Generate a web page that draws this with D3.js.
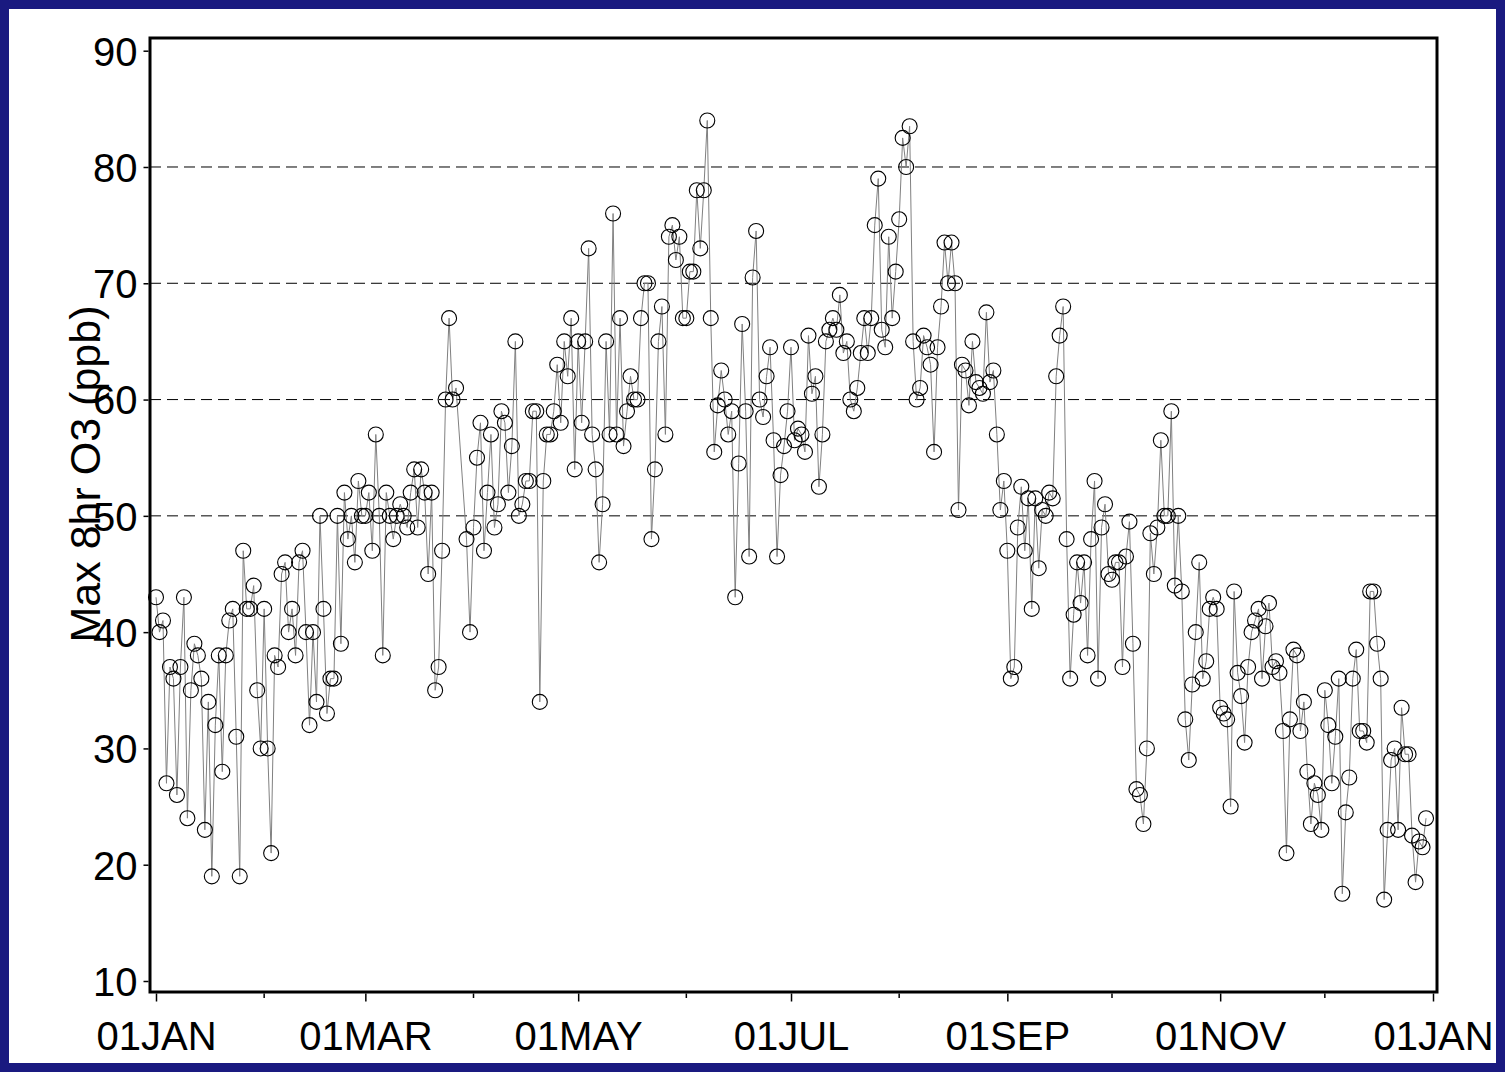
<!DOCTYPE html>
<html>
<head>
<meta charset="utf-8">
<script src="https://cdn.jsdelivr.net/npm/d3@7"></script>
<style>
  html, body { margin: 0; padding: 0; background: #1a1a80; }
  svg { display: block; }
  text { font-family: "Liberation Sans", Arial, sans-serif; fill: #000; }
</style>
</head>
<body>
<svg id="chart" width="1505" height="1072"></svg>
<script>
// ---- data ----
const startDate = new Date(2000, 0, 1);   // leap year, daily values
const endDate = new Date(2001, 0, 1);
const ozone = [
  43,40,41,27,37,36,26,37,43,24, 35,39,38,36,23,34,19,32,38,28,
  38,41,42,31,19,47,42,42,44,35, 30,42,30,21,38,37,45,46,40,42,
  38,46,47,40,32,40,34,50,42,33, 36,36,50,39,52,48,50,46,53,50,
  50,52,47,57,50,38,52,50,48,50, 51,50,49,52,54,49,54,52,45,52,
  35,37,47,60,67,60,61,null,null,48, 40,49,55,58,47,52,57,49,51,59,
  58,52,56,65,50,51,53,53,59,59, 34,53,57,57,59,63,58,65,62,67,
  54,65,58,65,73,57,54,46,51,65, 57,76,57,67,56,59,62,60,60,67,
  70,70,48,54,65,68,57,74,75,72, 74,67,67,71,71,78,73,78,84,67,
  55.5,59.5,62.5,60,57,59,43,54.5,66.5,59, 46.5,70.5,74.5,60,58.5,62,64.5,56.5,46.5,53.5,
  56,59,64.5,56.5,57.5,57,55.5,65.5,60.5,62, 52.5,57,65,66,67,66,69,64,65,60,
  59,61,64,67,64,67,75,79,66,64.5, 74,67,71,75.5,82.5,80,83.5,65,60,61,
  65.5,64.5,63,55.5,64.5,68,73.5,70,73.5,70, 50.5,63,62.5,59.5,65,61.5,61,60.5,67.5,61.5,
  62.5,57,50.5,53,47,36,37,49,52.5,47, 51.5,42,51.5,45.5,50.5,50,52,51.5,62,65.5,
  68,48,36,41.5,46,42.5,46,38,48,53, 36,49,51,45,44.5,46,46,37,46.5,49.5,
  39,26.5,26,23.5,30,48.5,45,49,56.5,50, 50,59,44,50,43.5,32.5,29,35.5,40,46,
  36,37.5,42,43,42,33.5,33,32.5,25,43.5, 36.5,34.5,30.5,37,40,41,42,36,40.5,42.5,
  37,37.5,36.5,31.5,21,32.5,38.5,38,31.5,34, 28,23.5,27,26,23,35,32,27,31,36,
  17.5,24.5,27.5,36,38.5,31.5,31.5,30.5,43.5,43.5, 39,36,17,23,29,30,23,33.5,29.5,29.5,
  22.5,18.5,22,21.5,24
];
const yTicks = [10, 20, 30, 40, 50, 60, 70, 80, 90];
const gridValues = [50, 60, 70, 80];
const xTickLabels = ["01JAN", "01MAR", "01MAY", "01JUL", "01SEP", "01NOV", "01JAN"];
const yTitle = "Max 8hr O3 (ppb)";

// ---- layout ----
const frame = { left: 150, right: 1437, top: 38, bottom: 992 };
const svg = d3.select("#chart");

svg.append("rect").attr("x", 0).attr("y", 0).attr("width", 1505).attr("height", 1072).attr("fill", "#1a1a80");
svg.append("rect").attr("x", 9).attr("y", 9).attr("width", 1487).attr("height", 1054).attr("fill", "#ffffff");

const x = d3.scaleTime().domain([startDate, endDate]).range([156, 1433]);
const y = d3.scaleLinear().domain([10, 90]).range([981, 50.7]);

const points = ozone.map((v, i) => ({ date: d3.timeDay.offset(startDate, i), value: v }))
                    .filter(d => d.value !== null);

// grid lines
svg.append("g").selectAll("line").data(gridValues).join("line")
  .attr("x1", frame.left).attr("x2", frame.right)
  .attr("y1", d => y(d)).attr("y2", d => y(d))
  .attr("stroke", "#000").attr("stroke-width", 1).attr("stroke-dasharray", "11,6");

// line
svg.append("path").datum(points)
  .attr("fill", "none").attr("stroke", "#808080").attr("stroke-width", 1)
  .attr("d", d3.line().x(d => x(d.date)).y(d => y(d.value)));

// markers
svg.append("g").selectAll("circle").data(points).join("circle")
  .attr("cx", d => x(d.date)).attr("cy", d => y(d.value)).attr("r", 7.5)
  .attr("fill", "none").attr("stroke", "#000").attr("stroke-width", 1.1);

// frame
svg.append("rect").attr("x", frame.left).attr("y", frame.top)
  .attr("width", frame.right - frame.left).attr("height", frame.bottom - frame.top)
  .attr("fill", "none").attr("stroke", "#000").attr("stroke-width", 3);

// y axis
const yAxis = d3.axisLeft(y).tickValues(yTicks).tickSize(5).tickPadding(6).tickFormat(d3.format("d"));
const gy = svg.append("g").attr("transform", `translate(${frame.left - 1.5},0)`).call(yAxis);
gy.select(".domain").remove();
gy.selectAll("text").attr("font-size", 40).attr("font-family", "Liberation Sans, Arial, sans-serif").attr("dy", "0.36em");
gy.selectAll("line").attr("stroke", "#000").attr("stroke-width", 1.5);

// x axis (major every 2 months, minor between)
const majorDates = d3.timeMonth.every(2).range(startDate, d3.timeDay.offset(endDate, 1));
const minorDates = d3.timeMonth.range(startDate, d3.timeDay.offset(endDate, 1)).filter((d, i) => i % 2 === 1);
const xAxis = d3.axisBottom(x).tickValues(majorDates).tickSize(8).tickPadding(20)
  .tickFormat((d, i) => xTickLabels[i]);
const gx = svg.append("g").attr("transform", `translate(0,${frame.bottom + 1.5})`).call(xAxis);
gx.select(".domain").remove();
gx.selectAll("text").attr("font-size", 40).attr("font-family", "Liberation Sans, Arial, sans-serif");
gx.selectAll("line").attr("stroke", "#000").attr("stroke-width", 1.5);
svg.append("g").selectAll("line").data(minorDates).join("line")
  .attr("x1", d => x(d)).attr("x2", d => x(d))
  .attr("y1", frame.bottom + 1.5).attr("y2", frame.bottom + 6)
  .attr("stroke", "#000").attr("stroke-width", 1.5);

// y title
svg.append("text")
  .attr("transform", "translate(100,474) rotate(-90)")
  .attr("text-anchor", "middle")
  .attr("font-size", 43)
  .text(yTitle);
</script>
</body>
</html>
